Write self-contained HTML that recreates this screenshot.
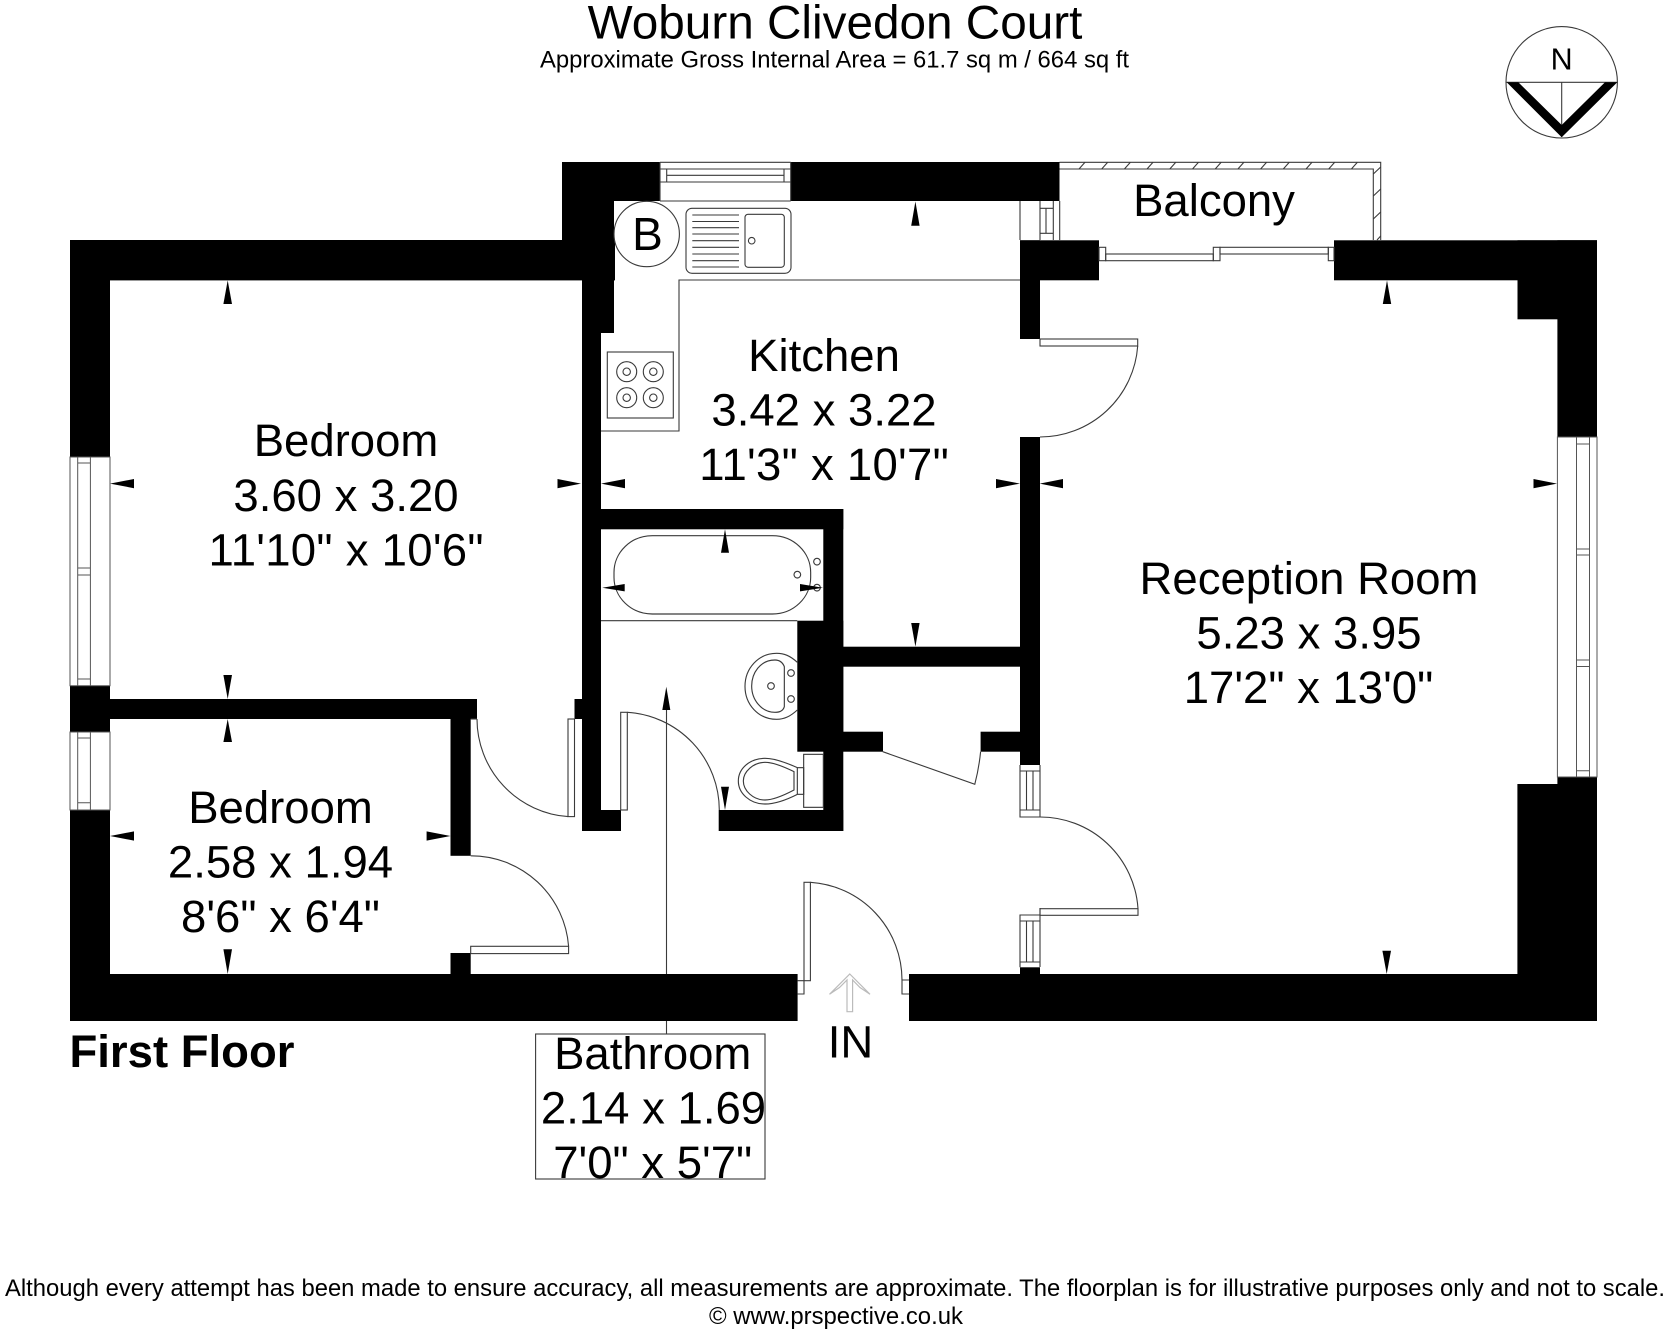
<!DOCTYPE html>
<html><head><meta charset="utf-8"><title>Woburn Clivedon Court</title>
<style>html,body{margin:0;padding:0;background:#fff}svg{display:block}text{font-family:"Liberation Sans",Arial,sans-serif;fill:#000}</style></head>
<body>
<svg xmlns="http://www.w3.org/2000/svg" width="1668" height="1336" viewBox="0 0 1668 1336">
<rect width="1668" height="1336" fill="#fff"/>
<!-- walls -->
<g fill="#000">
<rect x="70" y="240" width="545" height="40.4"/>
<rect x="70" y="240" width="40" height="217"/>
<rect x="70" y="685.7" width="40" height="46.3"/>
<rect x="70" y="810" width="40" height="211"/>
<rect x="70" y="974" width="727.6" height="47"/>
<rect x="909" y="974" width="688" height="47"/>
<rect x="562" y="162" width="98" height="39"/>
<rect x="791" y="162" width="268.5" height="39"/>
<rect x="562" y="162" width="52" height="118"/>
<rect x="582" y="201" width="32" height="132"/>
<rect x="582" y="280" width="19" height="551"/>
<rect x="574.5" y="699" width="8" height="20"/>
<rect x="582" y="810" width="39" height="21"/>
<rect x="582" y="509" width="261.3" height="20.3"/>
<rect x="823.3" y="509" width="20" height="322"/>
<rect x="797.3" y="620.7" width="46" height="131"/>
<rect x="718.7" y="810" width="124.6" height="21"/>
<rect x="843" y="646.7" width="177" height="20"/>
<rect x="843" y="731.7" width="40" height="20"/>
<rect x="980.6" y="731.7" width="40" height="20"/>
<rect x="1020" y="240.3" width="79" height="40"/>
<rect x="1020" y="240.3" width="20" height="98.7"/>
<rect x="1020" y="437" width="20" height="328"/>
<rect x="1020" y="967.3" width="20" height="10"/>
<rect x="1334" y="240.3" width="263" height="40"/>
<rect x="1517.5" y="240.3" width="79.5" height="79"/>
<rect x="1557.4" y="240.3" width="39.6" height="196.7"/>
<rect x="1557.4" y="777" width="39.6" height="244"/>
<rect x="1517.4" y="784" width="79.6" height="237"/>
<rect x="110" y="699" width="367" height="20"/>
<rect x="450.5" y="699" width="20.2" height="156.8"/>
<rect x="450.5" y="953" width="20.2" height="21"/>
</g>
<!-- thin lines -->
<g fill="none" stroke="#3a3a3a" stroke-width="1.1">
<!-- kitchen worktops -->
<path d="M1020 280H679V431H601"/>
<rect x="607.3" y="352" width="66" height="66"/>
<circle cx="626.7" cy="371.7" r="10"/><circle cx="653.3" cy="371.7" r="10"/><circle cx="626.7" cy="397.7" r="10"/><circle cx="653.3" cy="397.7" r="10"/>
<circle cx="626.7" cy="371.7" r="3.7"/><circle cx="653.3" cy="371.7" r="3.7"/><circle cx="626.7" cy="397.7" r="3.7"/><circle cx="653.3" cy="397.7" r="3.7"/>
<circle cx="646.7" cy="234" r="32.7"/>
<rect x="686" y="208.3" width="105" height="65" rx="6"/>
<rect x="745" y="214.3" width="39.3" height="53" rx="3"/>
<circle cx="751.7" cy="240.7" r="3.3"/>
<path d="M692.3 215H739M692.3 221.5H739M692.3 227.7H739M692.3 234H739M692.3 240.7H739M692.3 247.3H739M692.3 254H739M692.3 260.7H739M692.3 267H739"/>
<!-- top kitchen window -->
<path d="M660 162.3H790.7M660 169H790.7M666.7 175.3H784M660 182H790.7M660 201H790.7M660 162V201M790.7 162V201M666.7 169V182M784 169V182"/>
<!-- kitchen-balcony window -->
<path d="M1020 201V240M1040 201V240M1053.3 201V240M1059.7 201V240M1040 208.3H1053.3M1040 233.3H1053.3M1046 208.3V233.3"/>
<!-- balcony -->
<path d="M1059.5 162.3H1380.7V240M1059.5 169H1373.3V240"/>
<path d="M1079 169L1085 162.3M1101.7 169L1107.7 162.3M1124.4 169L1130.4 162.3M1147 169L1153 162.3M1169.8 169L1175.8 162.3M1192.5 169L1198.5 162.3M1215.2 169L1221.2 162.3M1237.9 169L1243.9 162.3M1260.6 169L1266.6 162.3M1283.3 169L1289.3 162.3M1306 169L1312 162.3M1328.7 169L1334.7 162.3M1351.4 169L1357.4 162.3"/>
<path d="M1373.3 174L1380.7 167M1373.3 196L1380.7 189M1373.3 219L1380.7 212M1377 240L1380.7 236"/>
<!-- sliding door -->
<rect x="1099" y="247.3" width="6.7" height="13.4"/>
<rect x="1105.7" y="254" width="107.6" height="6.7"/>
<rect x="1213.3" y="247.3" width="6.7" height="13.4"/>
<rect x="1220" y="247.3" width="108.3" height="6.7"/>
<rect x="1328.3" y="247.3" width="5.7" height="13.4"/>
<!-- doors -->
<rect x="1040" y="339" width="97.7" height="7"/>
<path d="M1137.7 346A98 98 0 0 1 1040 437"/>
<rect x="1040" y="908.7" width="98" height="6.6"/>
<path d="M1040 817A98 98 0 0 1 1138 908.7"/>
<path d="M1020 765V817H1040V765M1020 771H1040M1020 810H1040M1026.5 771V810M1033 771V810"/>
<path d="M1020 967.3V915H1040M1020 921H1040M1020 962H1040M1026.5 921V962M1033 921V962M1040 908V967"/>
<path d="M882.8 751.7L974.8 784.3Q979 768 980.6 751.7"/>
<rect x="804" y="882.3" width="6.4" height="98.4"/>
<path d="M810.4 882.3A98 98 0 0 1 902 980"/>
<path d="M797.6 980.7H804V994H797.6"/>
<path d="M909 980H902V994H909"/>
<rect x="568" y="719" width="6.5" height="97.6"/>
<path d="M477 719A98 98 0 0 0 568 816.6"/>
<path d="M470.7 719H477"/>
<rect x="470.7" y="946.3" width="97.9" height="7.3"/>
<path d="M470.7 855.8A98 98 0 0 1 568.6 946.3"/>
<rect x="620.7" y="712.3" width="6.6" height="97.7"/>
<path d="M627.3 712.3A98 98 0 0 1 719.3 810"/>
<!-- left windows -->
<path d="M70 457H110V685.7H70ZM77.7 457V685.7M90.4 457V685.7M77.7 463H90.4M77.7 568H90.4M77.7 575H90.4M77.7 679H90.4" stroke="#555" stroke-width="1"/>
<path d="M70 732H110V810H70ZM77.7 732V810M90.4 732V810M77.7 738H90.4M77.7 802.7H90.4" stroke="#555" stroke-width="1"/>
<!-- right window -->
<path d="M1557.4 437H1597V777H1557.4ZM1576.5 437V777M1589.5 437V777M1576.5 444H1589.5M1576.5 549H1589.5M1576.5 555H1589.5M1576.5 660H1589.5M1576.5 666.5H1589.5M1576.5 770.7H1589.5" stroke="#555" stroke-width="1"/>
<!-- long line and bathroom box -->
<path d="M666.5 710V974M666.5 1021V1034"/>
<rect x="535.6" y="1034" width="229.4" height="145"/>
<!-- bathroom -->
<path d="M601 620.7H797.3"/>
<g transform="translate(590 510) scale(.33333)" stroke-width="3.4">
<rect x="72" y="77" width="590" height="235" rx="115" ry="110"/>
<circle cx="681" cy="155" r="10"/><circle cx="622" cy="194" r="10"/><circle cx="681" cy="233" r="10"/>
<path d="M622 457C600 437 582 430 560 430C505 430 465 475 465 529C465 583 505 628 560 628C582 628 600 620 622 600"/>
<path d="M583 470Q575 450 555 450C510 450 485 490 485 528C485 570 515 607 555 607Q578 607 583 590Z"/>
<circle cx="603" cy="489" r="10"/><circle cx="543" cy="528" r="10"/><circle cx="603" cy="567" r="10"/>
<rect x="641" y="733" width="59" height="159"/>
<rect x="622" y="773" width="19" height="80"/>
<path d="M622 773Q560 745 525 745C480 745 445 775 445 813C445 850 480 882 525 882Q565 882 622 853"/>
<path d="M612 785Q555 757 525 757C490 757 460 785 460 813C460 842 490 870 525 870Q555 870 612 840Z"/>
</g>
<!-- compass -->
<circle cx="1561.7" cy="82.3" r="55.7"/>
<path d="M1506 82.3H1617.4M1561.7 82.3V137"/>
</g>
<polygon points="1506.7,82.3 1518.3,82.3 1561.7,125 1605,82.3 1617.3,82.3 1561.7,137.3" fill="#000"/>
<!-- IN arrow -->
<path d="M849.8 974L870 994.3L860 987.5L852.6 980V1011.7H847V980L839.5 987.5L829.5 994.3Z" fill="none" stroke="#bbb" stroke-width="1.2"/>
<!-- dimension arrows -->
<g fill="#000">
<path d="M227.7 280.4L232 304H223.4Z"/>
<path d="M227.7 699L232 675H223.4Z"/>
<path d="M227.7 719L232 742H223.4Z"/>
<path d="M227.7 974L232 949.3H223.4Z"/>
<path d="M110 483.6L134 479V488.2Z"/>
<path d="M581 483.6L557.5 479V488.2Z"/>
<path d="M601 483.6L625 479V488.2Z"/>
<path d="M1020 483.6L996 479V488.2Z"/>
<path d="M1039.7 483.6L1063 479V488.2Z"/>
<path d="M1557 483.6L1533.5 479V488.2Z"/>
<path d="M915.4 201.5L919.6 225.7H911.2Z"/>
<path d="M915.4 646.6L919.6 623H911.2Z"/>
<path d="M1387 280.4L1391.2 304H1382.8Z"/>
<path d="M1386.7 974L1391 950.7H1382.4Z"/>
<path d="M110 836L134 831.4V840.6Z"/>
<path d="M450.5 836L426.6 831.4V840.6Z"/>
<path d="M725 529.3L729 552.7H721Z"/>
<path d="M725 810L729 786.7H721Z"/>
<path d="M602.3 587.7L624.7 584V591.4Z"/>
<path d="M823 587.7L800 584V591.4Z"/>
<path d="M666.3 686.7L670.3 710H662.3Z"/>
</g>
<!-- text -->
<g font-size="45.5" text-anchor="middle">
<text x="835" y="38.5" font-size="47.7">Woburn Clivedon Court</text>
<text x="1214" y="216">Balcony</text>
<text x="824" y="371">Kitchen</text>
<text x="824" y="425.5">3.42 x 3.22</text>
<text x="824" y="480" textLength="249.5" lengthAdjust="spacing">11'3" x 10'7"</text>
<text x="346" y="456">Bedroom</text>
<text x="346" y="510.8">3.60 x 3.20</text>
<text x="346" y="565.5" textLength="275" lengthAdjust="spacing">11'10" x 10'6"</text>
<text x="1309" y="594">Reception Room</text>
<text x="1309" y="648.6">5.23 x 3.95</text>
<text x="1308.5" y="703">17'2" x 13'0"</text>
<text x="280.5" y="823">Bedroom</text>
<text x="280.5" y="877.3">2.58 x 1.94</text>
<text x="280.5" y="932">8'6" x 6'4"</text>
<text x="652.7" y="1069">Bathroom</text>
<text x="653.5" y="1123.5">2.14 x 1.69</text>
<text x="652.7" y="1178">7'0" x 5'7"</text>
<text x="850.5" y="1057.3">IN</text>
<text x="647.5" y="250" font-size="46">B</text>
<text x="1561.7" y="69.3" font-size="30.5">N</text>
</g>
<text x="69.5" y="1067" font-size="45.5" font-weight="bold">First Floor</text>
<text x="540" y="67.5" font-size="24.3" textLength="589" lengthAdjust="spacingAndGlyphs">Approximate Gross Internal Area = 61.7 sq m / 664 sq ft</text>
<text x="5" y="1296" font-size="24.3" textLength="1660" lengthAdjust="spacingAndGlyphs">Although every attempt has been made to ensure accuracy, all measurements are approximate. The floorplan is for illustrative purposes only and not to scale.</text>
<text x="836" y="1324" font-size="23.9" text-anchor="middle">© www.prspective.co.uk</text>
</svg>
</body></html>
